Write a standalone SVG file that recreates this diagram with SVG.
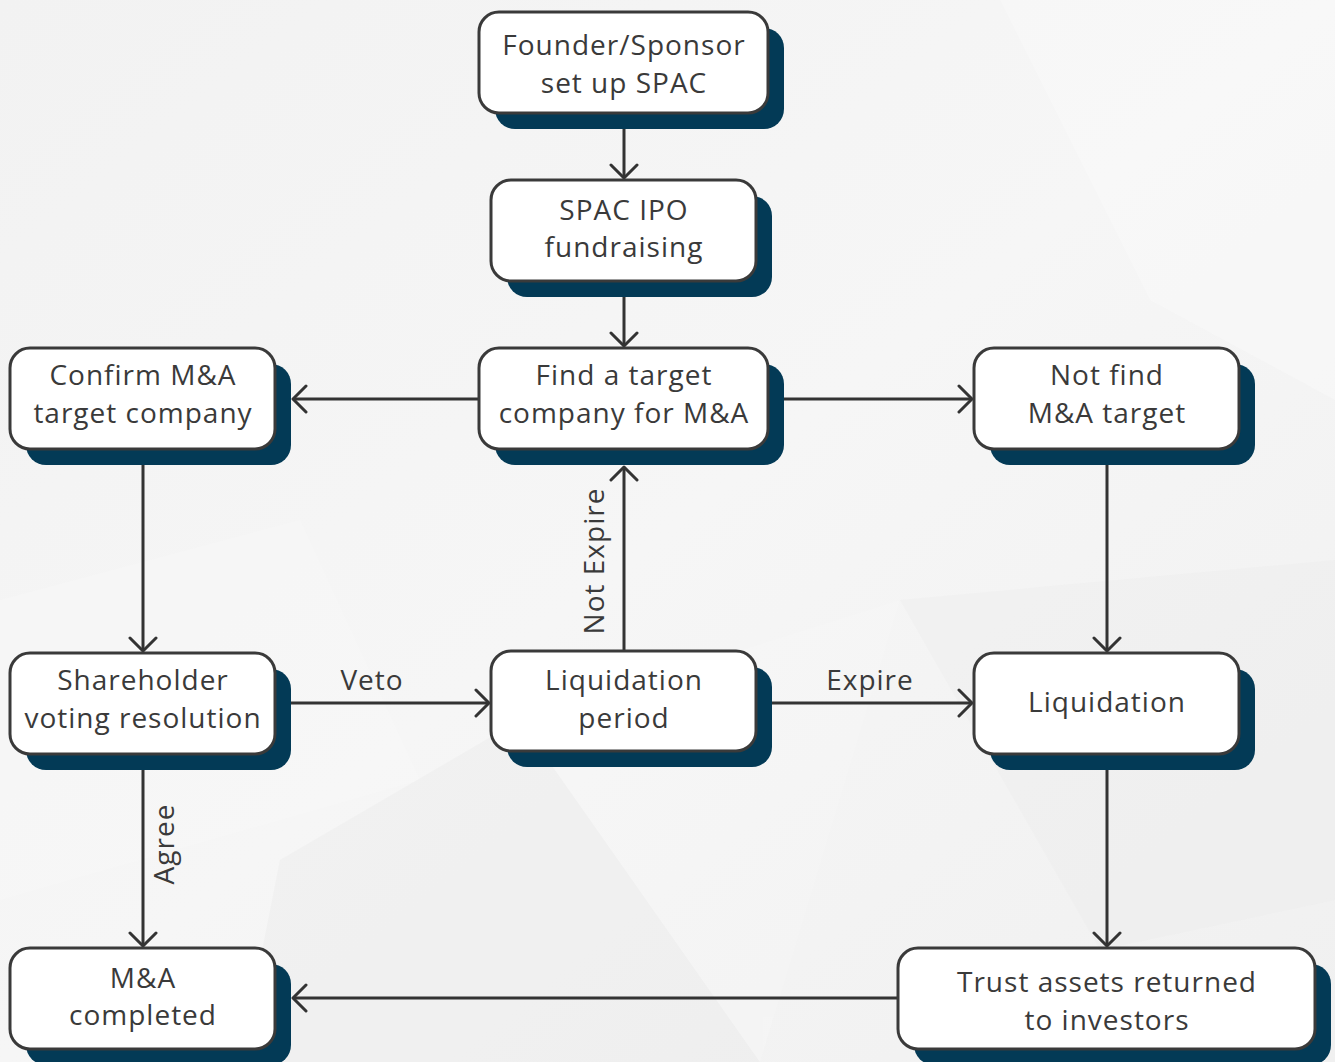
<svg xmlns="http://www.w3.org/2000/svg" width="1335" height="1062" viewBox="0 0 1335 1062">
<defs>
<linearGradient id="bg" x1="0" y1="0" x2="1" y2="1">
<stop offset="0" stop-color="#f2f2f2"/>
<stop offset="0.5" stop-color="#f6f6f6"/>
<stop offset="1" stop-color="#f0f0f0"/>
</linearGradient>
<marker id="arr" viewBox="-15 -15 17 30" refX="0" refY="0" markerWidth="17" markerHeight="30" markerUnits="userSpaceOnUse" orient="auto">
<path d="M-13,-13 L0,0 L-13,13" fill="none" stroke="#333333" stroke-width="3" stroke-linecap="round" stroke-linejoin="round"/>
</marker>
<style>
.sh{fill:#033a56}
.box{fill:#ffffff;stroke:#3a3a3a;stroke-width:3}
.t{font-family:"Open Sans","Liberation Sans",sans-serif;font-size:28px;letter-spacing:1px;fill:#3a3a3a;text-anchor:middle;dominant-baseline:central}
.c{fill:none;stroke:#333333;stroke-width:3;marker-end:url(#arr)}
</style>
</defs>
<rect x="0" y="0" width="1335" height="1062" fill="url(#bg)"/>
<g opacity="0.35">
<polygon points="0,600 300,520 420,780 0,900" fill="#fafafa"/>
<polygon points="280,860 520,720 760,1062 240,1062" fill="#e9e9e9"/>
<polygon points="520,720 900,600 760,1062" fill="#f8f8f8"/>
<polygon points="1000,0 1335,0 1335,400 1150,300" fill="#fbfbfb"/>
<polygon points="900,600 1335,560 1335,900 1100,950" fill="#ececec"/>
</g>

<g id="connectors">
<line class="c" x1="624" y1="113" x2="624" y2="178"/>
<line class="c" x1="624" y1="281" x2="624" y2="346"/>
<line class="c" x1="479" y1="399" x2="293" y2="399"/>
<line class="c" x1="784" y1="399" x2="972" y2="399"/>
<line class="c" x1="143" y1="465" x2="143" y2="651"/>
<line class="c" x1="1107" y1="449" x2="1107" y2="651"/>
<line class="c" x1="275" y1="703" x2="489" y2="703"/>
<line class="c" x1="624" y1="651" x2="624" y2="467"/>
<line class="c" x1="756" y1="703" x2="972" y2="703"/>
<line class="c" x1="143" y1="754" x2="143" y2="946"/>
<line class="c" x1="1107" y1="754" x2="1107" y2="946"/>
<line class="c" x1="898" y1="998" x2="293" y2="998"/>
<text class="t" x="372" y="679">Veto</text>
<text class="t" x="870" y="679">Expire</text>
<text class="t" transform="translate(593,561) rotate(-90)">Not Expire</text>
<text class="t" transform="translate(163,844) rotate(-90)">Agree</text>
</g>

<g id="n-founder">
<rect class="sh" x="495" y="28" width="289" height="101" rx="20"/>
<rect class="box" x="479" y="12" width="289" height="101" rx="20"/>
<text class="t" x="624" y="44">Founder/Sponsor</text>
<text class="t" x="624" y="82">set up SPAC</text>
</g>
<g id="n-ipo">
<rect class="sh" x="507" y="196" width="265" height="101" rx="20"/>
<rect class="box" x="491" y="180" width="265" height="101" rx="20"/>
<text class="t" x="624" y="209">SPAC IPO</text>
<text class="t" x="624" y="246">fundraising</text>
</g>
<g id="n-find">
<rect class="sh" x="495" y="364" width="289" height="101" rx="20"/>
<rect class="box" x="479" y="348" width="289" height="101" rx="20"/>
<text class="t" x="624" y="374">Find a target</text>
<text class="t" x="624" y="412">company for M&amp;A</text>
</g>
<g id="n-confirm">
<rect class="sh" x="26" y="364" width="265" height="101" rx="20"/>
<rect class="box" x="10" y="348" width="265" height="101" rx="20"/>
<text class="t" x="143" y="374">Confirm M&amp;A</text>
<text class="t" x="143" y="412">target company</text>
</g>
<g id="n-notfind">
<rect class="sh" x="990" y="364" width="265" height="101" rx="20"/>
<rect class="box" x="974" y="348" width="265" height="101" rx="20"/>
<text class="t" x="1107" y="374">Not find</text>
<text class="t" x="1107" y="412">M&amp;A target</text>
</g>
<g id="n-vote">
<rect class="sh" x="26" y="669" width="265" height="101" rx="20"/>
<rect class="box" x="10" y="653" width="265" height="101" rx="20"/>
<text class="t" x="143" y="679">Shareholder</text>
<text class="t" x="143" y="717">voting resolution</text>
</g>
<g id="n-liqperiod">
<rect class="sh" x="507" y="667" width="265" height="100" rx="20"/>
<rect class="box" x="491" y="651" width="265" height="100" rx="20"/>
<text class="t" x="624" y="679">Liquidation</text>
<text class="t" x="624" y="717">period</text>
</g>
<g id="n-liq">
<rect class="sh" x="990" y="669" width="265" height="101" rx="20"/>
<rect class="box" x="974" y="653" width="265" height="101" rx="20"/>
<text class="t" x="1107" y="701">Liquidation</text>
</g>
<g id="n-completed">
<rect class="sh" x="26" y="964" width="265" height="101" rx="20"/>
<rect class="box" x="10" y="948" width="265" height="101" rx="20"/>
<text class="t" x="143" y="977">M&amp;A</text>
<text class="t" x="143" y="1014">completed</text>
</g>
<g id="n-trust">
<rect class="sh" x="914" y="964" width="417" height="101" rx="20"/>
<rect class="box" x="898" y="948" width="417" height="101" rx="20"/>
<text class="t" x="1107" y="981">Trust assets returned</text>
<text class="t" x="1107" y="1019">to investors</text>
</g>
</svg>
